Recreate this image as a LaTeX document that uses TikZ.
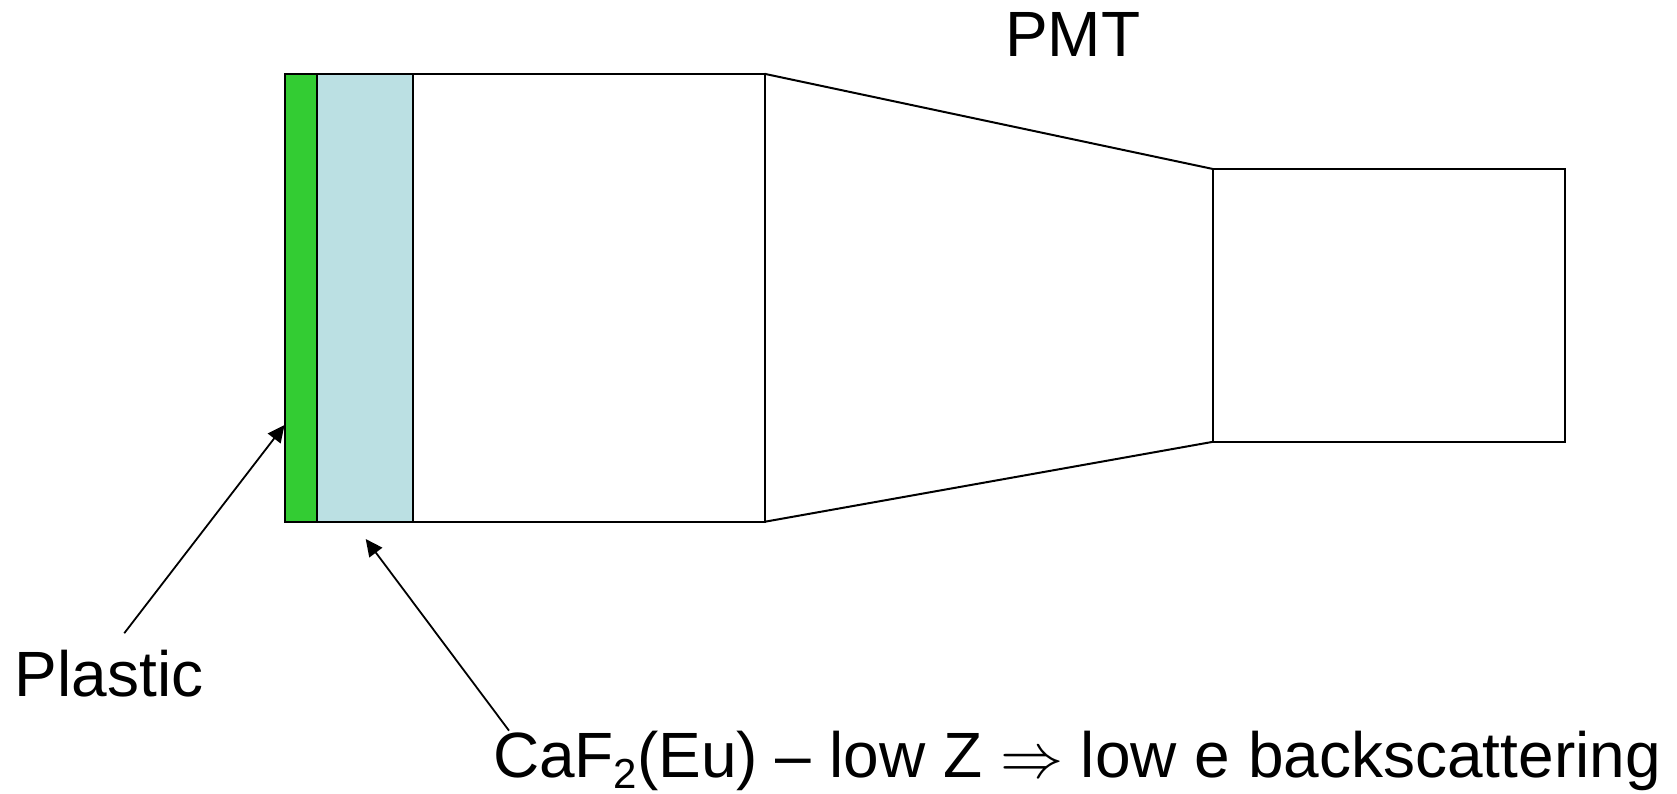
\documentclass[tikz,border=0pt]{standalone}
\usepackage{fontspec}
\setmainfont{Liberation Sans}
\usepackage{amsmath,amssymb}
\usepackage{xcolor}
\usetikzlibrary{arrows.meta,positioning}
\definecolor{slabgreen}{RGB}{51,204,51}
\definecolor{crystalblue}{RGB}{187,224,227}
\tikzstyle{arrow} = [line width=0.9pt,-{Triangle[length=8.5pt,width=8pt]}]

\begin{document}
\begin{tikzpicture}[
    x=0.5pt, y=-0.5pt,
    part/.style={rectangle, draw=black, fill=#1, line width=1pt, inner sep=0pt, outer sep=0pt},
    caption/.style={font=\fontsize{32}{36}\selectfont, anchor=base west, inner sep=0pt, outer sep=0pt},
    node distance=0pt
]
\useasboundingbox (0,0) rectangle (1677,793);
\node[part=slabgreen, minimum width=16pt, minimum height=224pt, anchor=north west] (plasticslab) at (284.5,73.8) {};
\node[part=crystalblue, minimum width=48pt, minimum height=224pt, right=of plasticslab] (crystal) {};
\node[part=white, minimum width=176pt, minimum height=224pt, right=of crystal] (guide) {};
\node[part=white, minimum width=176pt, minimum height=136.4pt, anchor=north west] (tube) at (1213,169) {};
\draw[line width=1pt] (guide.north east) -- (tube.north west);
\draw[line width=1pt] (guide.south east) -- (tube.south west);
\node[caption] (pmt) at (1005,56) {PMT};
\node[caption] (plastic) at (15,696) {Plastic};
\node[caption] (caf) at (493,777) {CaF\raisebox{-5.5pt}{\fontsize{21}{24}\selectfont 2}(Eu) -- low Z \scalebox{1.27}{$\Rightarrow$} low e backscattering};
\coordinate (plastichit) at (284.5,425);
\coordinate (crystalhit) at (365.7,539);
\draw[arrow] ([xshift=7.5pt,yshift=8.2pt]plastic.north) -- (plastichit);
\draw[arrow] ([xshift=8pt]caf.north west) -- (crystalhit);
\end{tikzpicture}
\end{document}
